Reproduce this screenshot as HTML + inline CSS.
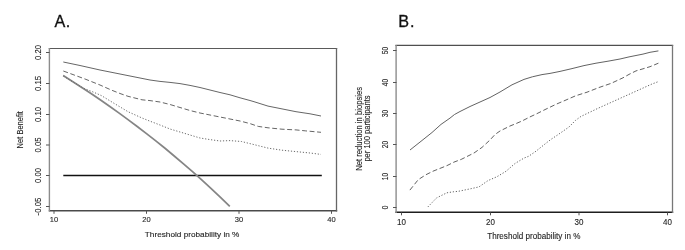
<!DOCTYPE html>
<html><head><meta charset="utf-8"><title>Decision curves</title>
<style>
html,body{margin:0;padding:0;background:#fff;}
body{width:685px;height:250px;overflow:hidden;font-family:"Liberation Sans", sans-serif;}
svg{display:block;will-change:transform;}
</style></head>
<body>
<svg width="685" height="250" viewBox="0 0 685 250" font-family='"Liberation Sans", sans-serif'>
<rect width="685" height="250" fill="#fff"/>
<text x="54.6" y="26.8" text-anchor="start" font-size="16.2" fill="#111" stroke="#111" stroke-width="0.3" letter-spacing="0.3">A.</text>
<text x="398.3" y="26.8" text-anchor="start" font-size="16.2" fill="#111" stroke="#111" stroke-width="0.3" letter-spacing="0.8">B.</text>
<line x1="48.8" y1="48.4" x2="337.2" y2="48.4" stroke="#5a5a5a" stroke-width="1.05"/>
<line x1="48.8" y1="210.8" x2="337.2" y2="210.8" stroke="#4a4a4a" stroke-width="1.5"/>
<line x1="49.4" y1="48" x2="49.4" y2="211.5" stroke="#8c8c8c" stroke-width="1.4"/>
<line x1="336.5" y1="48" x2="336.5" y2="211.5" stroke="#666" stroke-width="1.3"/>
<line x1="46.0" y1="52.5" x2="49.5" y2="52.5" stroke="#555" stroke-width="1"/>
<text transform="translate(41.4,52.5) rotate(-90)" text-anchor="middle" font-size="8.6" fill="#262626" textLength="15.0" lengthAdjust="spacingAndGlyphs" stroke="#262626" stroke-width="0.12">0.20</text>
<line x1="46.0" y1="83.5" x2="49.5" y2="83.5" stroke="#555" stroke-width="1"/>
<text transform="translate(41.4,83.5) rotate(-90)" text-anchor="middle" font-size="8.6" fill="#262626" textLength="15.0" lengthAdjust="spacingAndGlyphs" stroke="#262626" stroke-width="0.12">0.15</text>
<line x1="46.0" y1="114.5" x2="49.5" y2="114.5" stroke="#555" stroke-width="1"/>
<text transform="translate(41.4,114.5) rotate(-90)" text-anchor="middle" font-size="8.6" fill="#262626" textLength="15.0" lengthAdjust="spacingAndGlyphs" stroke="#262626" stroke-width="0.12">0.10</text>
<line x1="46.0" y1="145" x2="49.5" y2="145" stroke="#555" stroke-width="1"/>
<text transform="translate(41.4,145) rotate(-90)" text-anchor="middle" font-size="8.6" fill="#262626" textLength="15.0" lengthAdjust="spacingAndGlyphs" stroke="#262626" stroke-width="0.12">0.05</text>
<line x1="46.0" y1="175.5" x2="49.5" y2="175.5" stroke="#555" stroke-width="1"/>
<text transform="translate(41.4,175.5) rotate(-90)" text-anchor="middle" font-size="8.6" fill="#262626" textLength="15.0" lengthAdjust="spacingAndGlyphs" stroke="#262626" stroke-width="0.12">0.00</text>
<line x1="46.0" y1="206.5" x2="49.5" y2="206.5" stroke="#555" stroke-width="1"/>
<text transform="translate(41.4,206.5) rotate(-90)" text-anchor="middle" font-size="8.6" fill="#262626" textLength="17.8" lengthAdjust="spacingAndGlyphs" stroke="#262626" stroke-width="0.12">-0.05</text>
<line x1="54" y1="210.5" x2="54" y2="213.8" stroke="#555" stroke-width="1"/>
<text x="54" y="222.2" text-anchor="middle" font-size="8.1" fill="#262626" textLength="8.4" lengthAdjust="spacingAndGlyphs" stroke="#262626" stroke-width="0.12">10</text>
<line x1="146.5" y1="210.5" x2="146.5" y2="213.8" stroke="#555" stroke-width="1"/>
<text x="146.5" y="222.2" text-anchor="middle" font-size="8.1" fill="#262626" textLength="8.4" lengthAdjust="spacingAndGlyphs" stroke="#262626" stroke-width="0.12">20</text>
<line x1="239" y1="210.5" x2="239" y2="213.8" stroke="#555" stroke-width="1"/>
<text x="239" y="222.2" text-anchor="middle" font-size="8.1" fill="#262626" textLength="8.4" lengthAdjust="spacingAndGlyphs" stroke="#262626" stroke-width="0.12">30</text>
<line x1="331.5" y1="210.5" x2="331.5" y2="213.8" stroke="#555" stroke-width="1"/>
<text x="331.5" y="222.2" text-anchor="middle" font-size="8.1" fill="#262626" textLength="8.4" lengthAdjust="spacingAndGlyphs" stroke="#262626" stroke-width="0.12">40</text>
<text x="192.1" y="236.8" text-anchor="middle" font-size="8.0" fill="#262626" textLength="94.6" lengthAdjust="spacingAndGlyphs" stroke="#262626" stroke-width="0.12">Threshold probability in %</text>
<text transform="translate(23.0,129.8) rotate(-90)" text-anchor="middle" font-size="8.4" fill="#262626" textLength="37.2" lengthAdjust="spacingAndGlyphs" stroke="#262626" stroke-width="0.12">Net Benefit</text>
<line x1="63.3" y1="175.5" x2="321.8" y2="175.5" stroke="#111" stroke-width="1.6"/>
<polyline points="63.2,75.5 72.5,81.4 81.8,87.4 91.0,93.5 100.2,99.8 109.5,106.3 118.8,112.9 128.0,119.6 137.2,126.5 146.5,133.6 155.8,140.9 165.0,148.3 174.2,156.0 183.5,163.9 192.8,171.9 202.0,180.2 211.2,188.7 220.5,197.4 229.8,206.4" fill="none" stroke="#858585" stroke-width="1.75"/>
<polyline points="63.3,62.0 80.0,65.5 100.0,70.0 120.0,74.0 140.0,78.0 150.0,80.0 160.0,81.4 170.0,82.4 180.0,83.6 190.0,85.4 200.0,87.5 210.0,90.0 220.0,92.5 230.0,94.8 240.0,97.8 250.0,100.5 254.0,101.7 268.0,106.1 282.0,108.9 296.0,111.7 310.0,113.8 321.0,116.0" fill="none" stroke="#666" stroke-width="1"/>
<polyline points="63.3,71.0 85.0,79.0 100.0,85.0 111.2,90.0 120.0,93.5 128.0,96.3 142.0,99.8 150.0,100.6 160.0,102.0 170.0,104.5 180.0,107.5 190.0,110.5 200.0,113.0 210.0,115.0 220.0,117.0 230.0,119.0 240.0,121.0 250.0,123.6 258.2,126.4 268.0,127.8 282.0,129.2 296.0,129.9 305.8,130.9 321.0,132.3" fill="none" stroke="#666" stroke-width="1" stroke-dasharray="4.9 2.6"/>
<polyline points="63.3,76.0 84.0,88.5 93.6,92.2 101.4,95.6 114.0,103.3 128.0,111.7 142.0,118.0 149.0,120.8 160.0,125.0 170.0,129.0 180.0,132.0 190.0,135.0 200.0,138.0 210.0,139.6 220.0,141.0 230.0,140.6 241.4,141.5 254.0,144.6 268.0,148.1 282.0,150.2 296.0,151.6 310.0,153.0 321.0,154.4" fill="none" stroke="#6a6a6a" stroke-width="1" stroke-dasharray="1.2 1.8"/>
<line x1="395.4" y1="45.4" x2="673.2" y2="45.4" stroke="#4f4f4f" stroke-width="1.3"/>
<line x1="395.4" y1="212.3" x2="673.2" y2="212.3" stroke="#1e1e1e" stroke-width="1.5"/>
<line x1="396.1" y1="45" x2="396.1" y2="213" stroke="#8c8c8c" stroke-width="1.4"/>
<line x1="672.5" y1="45" x2="672.5" y2="213" stroke="#777" stroke-width="1.3"/>
<line x1="393.0" y1="207.5" x2="396.5" y2="207.5" stroke="#555" stroke-width="1"/>
<text transform="translate(388.0,207.5) rotate(-90)" text-anchor="middle" font-size="8.7" fill="#262626" textLength="3.9" lengthAdjust="spacingAndGlyphs" stroke="#262626" stroke-width="0.12">0</text>
<line x1="393.0" y1="176.5" x2="396.5" y2="176.5" stroke="#555" stroke-width="1"/>
<text transform="translate(388.0,176.5) rotate(-90)" text-anchor="middle" font-size="8.7" fill="#262626" textLength="7.4" lengthAdjust="spacingAndGlyphs" stroke="#262626" stroke-width="0.12">10</text>
<line x1="393.0" y1="144.5" x2="396.5" y2="144.5" stroke="#555" stroke-width="1"/>
<text transform="translate(388.0,144.5) rotate(-90)" text-anchor="middle" font-size="8.7" fill="#262626" textLength="7.4" lengthAdjust="spacingAndGlyphs" stroke="#262626" stroke-width="0.12">20</text>
<line x1="393.0" y1="113.5" x2="396.5" y2="113.5" stroke="#555" stroke-width="1"/>
<text transform="translate(388.0,113.5) rotate(-90)" text-anchor="middle" font-size="8.7" fill="#262626" textLength="7.4" lengthAdjust="spacingAndGlyphs" stroke="#262626" stroke-width="0.12">30</text>
<line x1="393.0" y1="82.5" x2="396.5" y2="82.5" stroke="#555" stroke-width="1"/>
<text transform="translate(388.0,82.5) rotate(-90)" text-anchor="middle" font-size="8.7" fill="#262626" textLength="7.4" lengthAdjust="spacingAndGlyphs" stroke="#262626" stroke-width="0.12">40</text>
<line x1="393.0" y1="50.5" x2="396.5" y2="50.5" stroke="#555" stroke-width="1"/>
<text transform="translate(388.0,50.5) rotate(-90)" text-anchor="middle" font-size="8.7" fill="#262626" textLength="7.4" lengthAdjust="spacingAndGlyphs" stroke="#262626" stroke-width="0.12">50</text>
<line x1="401.5" y1="212.5" x2="401.5" y2="215.3" stroke="#555" stroke-width="1"/>
<text x="401.5" y="224.9" text-anchor="middle" font-size="8.6" fill="#262626" textLength="8.9" lengthAdjust="spacingAndGlyphs" stroke="#262626" stroke-width="0.12">10</text>
<line x1="490.5" y1="212.5" x2="490.5" y2="215.3" stroke="#555" stroke-width="1"/>
<text x="490.5" y="224.9" text-anchor="middle" font-size="8.6" fill="#262626" textLength="8.9" lengthAdjust="spacingAndGlyphs" stroke="#262626" stroke-width="0.12">20</text>
<line x1="579" y1="212.5" x2="579" y2="215.3" stroke="#555" stroke-width="1"/>
<text x="579" y="224.9" text-anchor="middle" font-size="8.6" fill="#262626" textLength="8.9" lengthAdjust="spacingAndGlyphs" stroke="#262626" stroke-width="0.12">30</text>
<line x1="667.5" y1="212.5" x2="667.5" y2="215.3" stroke="#555" stroke-width="1"/>
<text x="667.5" y="224.9" text-anchor="middle" font-size="8.6" fill="#262626" textLength="8.9" lengthAdjust="spacingAndGlyphs" stroke="#262626" stroke-width="0.12">40</text>
<text x="533.8" y="238.9" text-anchor="middle" font-size="8.2" fill="#262626" textLength="93.2" lengthAdjust="spacingAndGlyphs" stroke="#262626" stroke-width="0.12">Threshold probability in %</text>
<text transform="translate(361.5,128.9) rotate(-90)" text-anchor="middle" font-size="8.6" fill="#262626" textLength="83.8" lengthAdjust="spacingAndGlyphs" stroke="#262626" stroke-width="0.12">Net reduction in biopsies</text>
<text transform="translate(369.9,128.5) rotate(-90)" text-anchor="middle" font-size="8.6" fill="#262626" textLength="66.2" lengthAdjust="spacingAndGlyphs" stroke="#262626" stroke-width="0.12">per 100 participants</text>
<polyline points="410.0,150.0 423.0,139.7 432.0,132.5 441.0,124.4 450.0,118.1 454.5,114.5 460.0,111.5 470.0,106.5 480.0,102.0 490.0,97.5 500.0,92.0 512.0,84.8 524.0,79.4 532.4,76.8 542.0,74.6 550.0,73.4 560.0,71.4 572.0,68.6 584.0,65.6 596.0,63.2 608.0,61.2 620.0,59.0 629.0,56.9 643.0,54.1 650.0,52.3 658.4,50.9" fill="none" stroke="#5a5a5a" stroke-width="0.95"/>
<polyline points="409.9,190.1 418.3,179.6 426.0,174.7 433.0,171.2 440.0,168.4 447.0,165.6 454.0,162.1 461.2,159.4 474.0,153.0 482.0,147.4 490.0,140.0 495.0,134.5 500.0,131.0 510.0,126.0 516.0,123.6 522.0,121.0 530.0,116.9 536.0,114.1 546.0,109.1 556.0,104.3 566.0,100.0 575.6,95.8 587.0,92.2 599.0,87.5 611.0,83.4 623.0,77.8 629.0,74.4 636.0,70.9 643.0,68.8 650.0,66.7 658.4,63.2" fill="none" stroke="#5a5a5a" stroke-width="0.95" stroke-dasharray="4.9 2.6"/>
<polyline points="427.9,206.9 436.6,197.9 443.0,194.7 446.9,192.8 453.2,191.8 458.4,191.3 470.9,188.7 479.0,186.9 488.0,180.6 497.0,176.7 506.0,171.3 515.0,163.5 524.0,158.1 528.6,156.3 536.0,151.2 547.0,142.4 551.4,139.1 558.0,134.7 569.0,127.0 575.5,120.4 581.0,116.4 598.0,108.3 616.0,100.2 634.0,92.1 652.0,84.0 658.4,81.6" fill="none" stroke="#5a5a5a" stroke-width="0.95" stroke-dasharray="1.2 1.8"/>
</svg>
</body></html>
